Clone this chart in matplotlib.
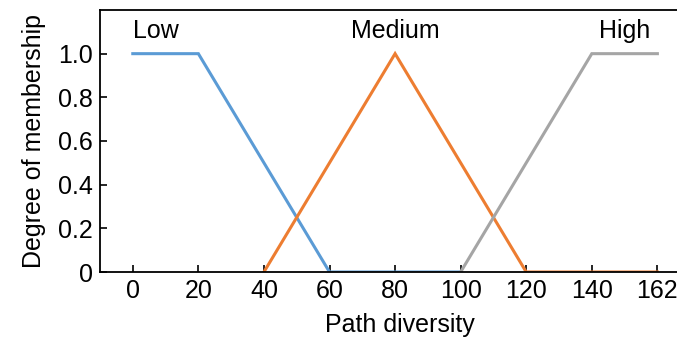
import matplotlib
matplotlib.use("Agg")
import matplotlib.pyplot as plt

plt.rcParams['font.family'] = ['Liberation Sans', 'DejaVu Sans']

low_x = [0, 20, 60, 100]
low_y = [1, 1, 0, 0]
med_x = [40, 80, 120, 160]
med_y = [0, 1, 0, 0]
high_x = [100, 140, 160]
high_y = [0, 1, 1]

xtick_pos = [0, 20, 40, 60, 80, 100, 120, 140, 160]
xtick_labels = ['0', '20', '40', '60', '80', '100', '120', '140', '162']
ytick_pos = [0, 0.2, 0.4, 0.6, 0.8, 1.0]
ytick_labels = ['0', '0.2', '0.4', '0.6', '0.8', '1.0']

FS = 18

fig = plt.figure(figsize=(6.77, 3.4), dpi=100)
ax = fig.add_axes([100/677, 0.2, 600/677, 262/340])

ax.plot(low_x, low_y, color='#5B9BD5', lw=2.2, solid_joinstyle='miter')
ax.plot(med_x, med_y, color='#ED7D31', lw=2.2, solid_joinstyle='miter')
ax.plot(high_x, high_y, color='#A5A5A5', lw=2.2, solid_joinstyle='miter')

ax.set_xlim(-10, 173)
ax.set_ylim(0, 1.2)
ax.set_xticks(xtick_pos)
ax.set_xticklabels(xtick_labels)
ax.set_yticks(ytick_pos)
ax.set_yticklabels(ytick_labels)
ax.tick_params(direction='in', length=5, width=1.2, labelsize=FS, colors='black', pad=5)
ax.spines['right'].set_visible(False)
for s in ['left', 'bottom', 'top']:
    ax.spines[s].set_linewidth(1.3)

ax.text(7, 1.105, 'Low', ha='center', va='center', fontsize=FS)
ax.text(80, 1.105, 'Medium', ha='center', va='center', fontsize=FS)
ax.text(150, 1.105, 'High', ha='center', va='center', fontsize=FS)

ax.set_xlabel('Path diversity', fontsize=FS, labelpad=7)
ax.set_ylabel('Degree of membership', fontsize=FS, labelpad=9)

fig.savefig('out.png', dpi=100)
